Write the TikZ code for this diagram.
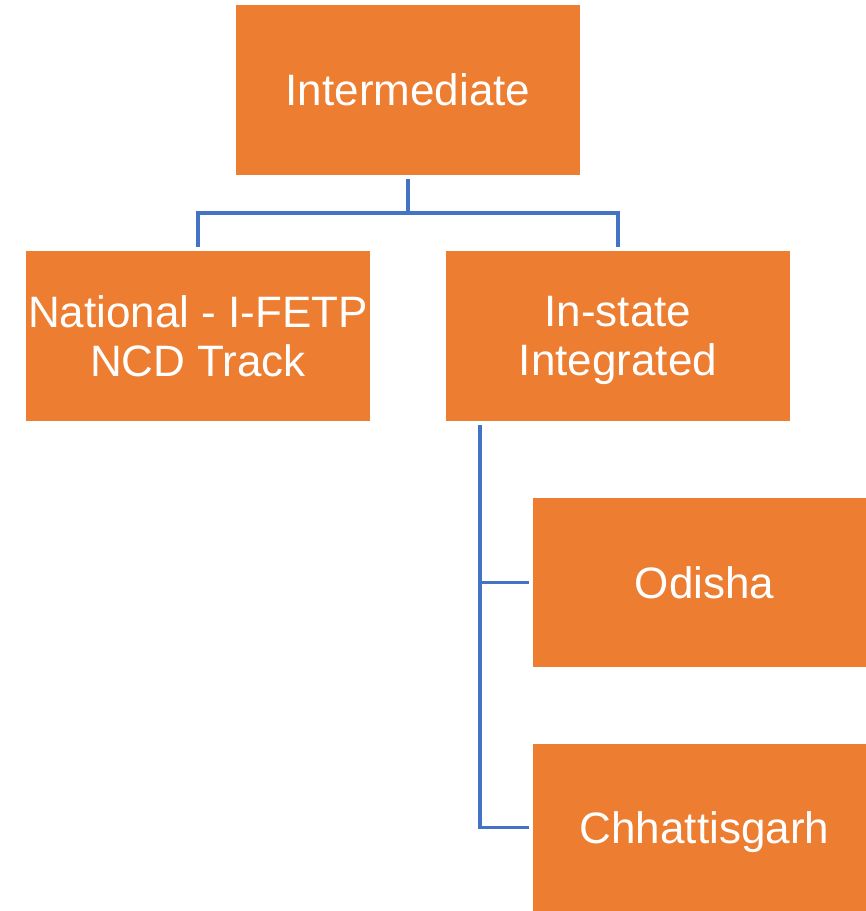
\documentclass[tikz,border=0pt]{standalone}
\usepackage{fontspec}
\setmainfont{Liberation Sans}
\usepackage{tikz}
\definecolor{boxorange}{HTML}{ED7D31}
\definecolor{linkblue}{HTML}{4472C4}

\tikzset{
  unit/.style={fill=boxorange, draw=none, text=white, align=center,
    inner sep=0pt, text depth=0pt, font=\fontsize{33}{37}\selectfont},
  link/.style={draw=linkblue, line width=2.3pt},
}

\begin{document}
\begin{tikzpicture}[x=0.75pt,y=-0.75pt]
          \useasboundingbox (0,0) rectangle (866,911);

          \node[unit, minimum width=344*0.75pt, minimum height=170*0.75pt] (top) at (408,90) {Intermediate};
          \node[unit, minimum width=344*0.75pt, minimum height=170*0.75pt] (nat) at (198,336) {National - I-FETP\\NCD Track};
          \node[unit, minimum width=344*0.75pt, minimum height=170*0.75pt] (ins) at (618,336) {In-state\\\smash{Integrated}};
          \node[unit, minimum width=343*0.75pt, minimum height=169*0.75pt] (odi) at (704.5,582.5) {Odisha};
          \node[unit, minimum width=343*0.75pt, minimum height=167*0.75pt] (chh) at (704.5,827.5) {Chhattisgarh};

          \coordinate (split) at (408,213);
          \coordinate (trunk) at (480,421);

          \draw[link, shorten <=3pt] (top.south) -- (split);
          \draw[link, shorten >=2.5pt] (split) -| (nat.north);
          \draw[link, shorten >=2.5pt] (split) -| (ins.north);

          \draw[link, shorten <=3pt, shorten >=2.5pt] (trunk) |- (odi.west);
          \draw[link, shorten <=3pt, shorten >=2.5pt] (trunk) |- (chh.west);
        \end{tikzpicture}
\end{document}
